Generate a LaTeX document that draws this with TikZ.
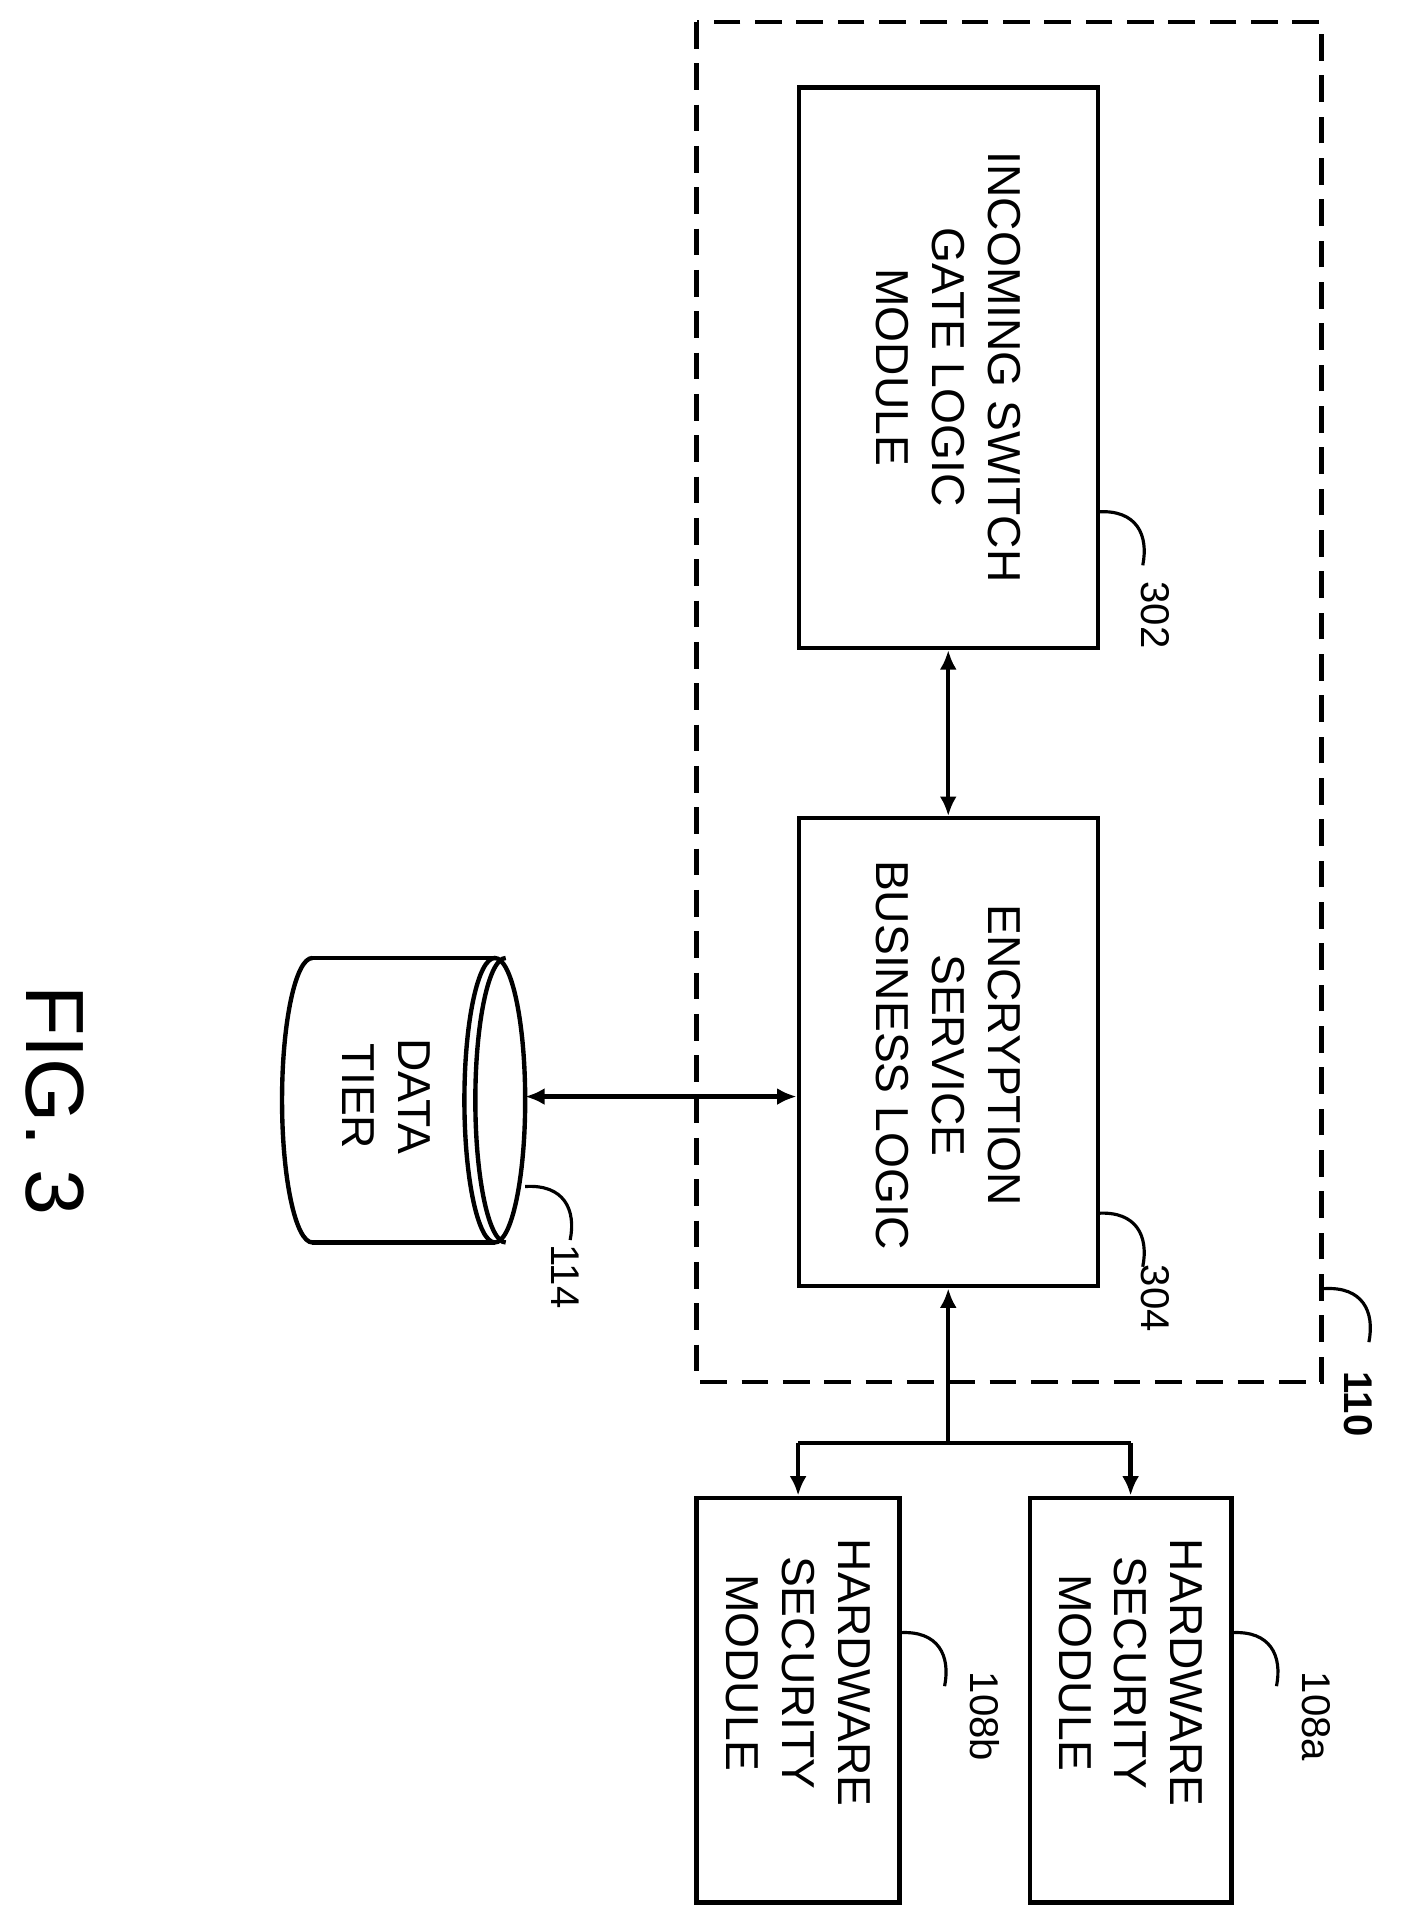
\documentclass[tikz,border=0pt]{standalone}
\usepackage{fontspec}
\setmainfont{Liberation Sans}
\usetikzlibrary{arrows.meta}
\begin{document}
\begin{tikzpicture}[x=1pt,y=-1pt,line width=3.6pt,
 txt/.style={rotate=-90,align=center,font=\fontsize{38}{46}\selectfont},
 lbl/.style={rotate=-90,font=\fontsize{33}{36}\selectfont},
 arr/.style={-{Latex[length=16pt,width=14pt]}},
 darr/.style={{Latex[length=16pt,width=14pt]}-{Latex[length=16pt,width=14pt]}},
 lead/.style={line width=2.6pt}]
\useasboundingbox (0,0) rectangle (1169,1567);
\draw[dash pattern=on 22pt off 12pt] (573,18) rectangle (1087,1137);
\node[draw,minimum width=246pt,minimum height=461pt,inner sep=0] (b302) at (780,302.5) {};
\node[txt] at (780,302) {INCOMING SWITCH\\GATE LOGIC\\MODULE};
\node[draw,minimum width=246pt,minimum height=385pt,inner sep=0] (b304) at (780,865.5) {};
\node[txt] at (780,868) {ENCRYPTION\\SERVICE\\BUSINESS LOGIC};
\node[draw,minimum width=167pt,minimum height=333pt,inner sep=0] (hb) at (656.5,1398.5) {};
\node[txt] at (656.5,1376) {HARDWARE\\SECURITY\\MODULE};
\node[draw,minimum width=166pt,minimum height=333pt,inner sep=0] (ha) at (930,1398.5) {};
\node[txt] at (930,1376) {HARDWARE\\SECURITY\\MODULE};
% cylinder
\coordinate (cyl) at (432,902);
\draw (257,788) -- (407,788) (257,1022) -- (407,1022);
\draw (257,788) arc[start angle=270,end angle=90,x radius=25,y radius=117];
\draw (407,905) ellipse[x radius=25,y radius=117];
\draw (416,788) arc[start angle=270,end angle=90,x radius=25,y radius=117];
\node[txt] (dt) at (318,902) {DATA\\TIER};
% connectors
\draw[darr] (cyl) -- (b304.west |- cyl);
\draw[darr] (b302.south) -- (b304.north);
\coordinate (j) at (780,1187);
\coordinate (jl) at (656.5,1187);
\coordinate (jr) at (930,1187);
\draw[arr] (j) -- (b304.south);
\draw (jl) -- (jr);
\draw[arr] (jl) -- (hb.north);
\draw[arr] (jr) -- (ha.north);
% labels
\node[lbl] (l302) at (950,506) {302};
\draw[lead] (903,421) .. controls (935,419) and (945,440) .. (940,465);
\node[lbl] (l304) at (950,1068) {304};
\draw[lead] (903,998) .. controls (935,996) and (945,1017) .. (940,1042);
\node[lbl] (l114) at (465,1050) {114};
\draw[lead] (432,976) .. controls (464,974) and (474,995) .. (469,1020);
\node[lbl,font=\fontsize{33}{36}\selectfont\bfseries] (l110) at (1117,1155) {110};
\draw[lead] (1089,1060) .. controls (1121,1058) and (1131,1079) .. (1126,1104);
\node[lbl] (l108a) at (1083,1412) {108a};
\draw[lead] (1013,1343) .. controls (1045,1341) and (1055,1362) .. (1050,1387);
\node[lbl] (l108b) at (810,1412) {108b};
\draw[lead] (740,1343) .. controls (772,1341) and (782,1362) .. (777,1387);
\node[rotate=-90,font=\fontsize{68}{70}\selectfont] (fig) at (45,905) {FIG. 3};
\end{tikzpicture}
\end{document}
